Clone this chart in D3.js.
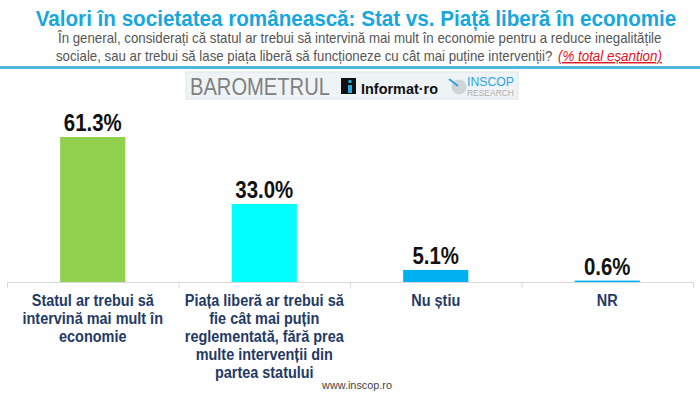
<!DOCTYPE html>
<html>
<head>
<meta charset="utf-8">
<script src="https://cdn.jsdelivr.net/npm/d3@7"></script>
<style>
  body { margin: 0; background: #fff; }
  svg { display: block; }
  text { font-family: "Liberation Sans", Arial, sans-serif; }
</style>
</head>
<body>
<svg id="chart" width="700" height="395"></svg>
<script>
// data
const categories = [
  ["Statul ar trebui să", "intervină mai mult în", "economie"],
  ["Piața liberă ar trebui să", "fie cât mai puțin", "reglementată, fără prea", "multe intervenții din", "partea statului"],
  ["Nu știu"],
  ["NR"]
];
const values = [61.3, 33.0, 5.1, 0.6];
const barColors = ["#92d050", "#00ffff", "#00b0f0", "#00b0f0"];

const width = 700, height = 395;
const margin = { left: 7, right: 7, baseline: 282, top: 137 };
const squeeze = 0.85; // fake a narrow font

const svg = d3.select("#chart");

// squeeze a text horizontally so it is w px wide, anchored at (x, y)
function fit(g, x, y, w) {
  const t = g.select("text");
  const k = w / t.node().getComputedTextLength();
  g.attr("transform", `translate(${x},${y}) scale(${Math.min(k, 1.2)},1)`);
  return g;
}
function label(x, y, w, str, attrs) {
  const g = svg.append("g");
  const t = g.append("text").text(str);
  Object.entries(attrs).forEach(([k, v]) => t.attr(k, v));
  return fit(g, x, y, w);
}

// title + question
label(356, 26, 641, "Valori în societatea românească: Stat vs. Piață liberă în economie",
  { "text-anchor": "middle", "font-size": 22, "font-weight": "bold", fill: "#16a7dd" });
label(58, 43, 604, "În general, considerați că statul ar trebui să intervină mai mult în economie pentru a reduce inegalitățile",
  { "font-size": 14, fill: "#555" });
label(56, 61, 497, "sociale, sau ar trebui să lase piața liberă să funcționeze cu cât mai puține intervenții?",
  { "font-size": 14, fill: "#555" });
label(558, 61, 104, "(% total eșantion)",
  { "font-size": 14, fill: "#e0141e", "font-style": "italic", "text-decoration": "underline" });

// blue separator
svg.append("rect")
  .attr("x", 0).attr("y", 66).attr("width", width).attr("height", 3)
  .attr("fill", "#4db7dc");

// logo banner
svg.append("rect")
  .attr("x", 186).attr("y", 72).attr("width", 332).attr("height", 27)
  .attr("fill", "#eef3f5").attr("stroke", "#dde6ea");
label(190, 95, 140, "BAROMETRUL", { "font-size": 23, fill: "#808080" });
svg.append("rect")
  .attr("x", 341).attr("y", 78).attr("width", 15).attr("height", 16)
  .attr("fill", "#111");
svg.append("rect")
  .attr("x", 348).attr("y", 85).attr("width", 4).attr("height", 8)
  .attr("fill", "#29a8e0");
svg.append("circle")
  .attr("cx", 350).attr("cy", 81.5).attr("r", 1.8)
  .attr("fill", "#29a8e0");
label(361, 94, 77, "Informat·ro", { "font-size": 15, "font-weight": "bold", fill: "#111" });
svg.append("circle")
  .attr("cx", 459).attr("cy", 87).attr("r", 7.5)
  .attr("fill", "#cfd4d7");
svg.append("line")
  .attr("x1", 449).attr("y1", 79).attr("x2", 458).attr("y2", 86)
  .attr("stroke", "#2aa7df").attr("stroke-width", 2);
label(467, 86, 47, "INSCOP", { "font-size": 12, fill: "#2aa7df" });
label(467, 96, 47, "RESEARCH", { "font-size": 8.5, fill: "#b0b0b0" });

// scales
const x = d3.scaleBand()
  .domain(d3.range(values.length))
  .range([margin.left, width - margin.right])
  .paddingInner(0.62).paddingOuter(0.31);

const y = d3.scaleLinear()
  .domain([0, 61.3])
  .range([margin.baseline, margin.top]);

// axis with category boundary ticks
const axis = svg.append("g");
axis.append("line")
  .attr("x1", margin.left).attr("x2", width - margin.right)
  .attr("y1", margin.baseline + 0.5).attr("y2", margin.baseline + 0.5)
  .attr("stroke", "#d9d9d9");
axis.selectAll("line.tick")
  .data(d3.range(values.length + 1))
  .join("line")
  .attr("class", "tick")
  .attr("x1", i => margin.left + 0.5 + i * (width - margin.left - margin.right) / values.length)
  .attr("x2", i => margin.left + 0.5 + i * (width - margin.left - margin.right) / values.length)
  .attr("y1", margin.baseline).attr("y2", margin.baseline + 6)
  .attr("stroke", "#d9d9d9");

// bars
svg.selectAll("rect.bar")
  .data(values)
  .join("rect")
  .attr("class", "bar")
  .attr("x", (d, i) => x(i))
  .attr("width", x.bandwidth())
  .attr("y", d => y(d))
  .attr("height", d => Math.max(1.5, margin.baseline - y(d)))
  .attr("fill", (d, i) => barColors[i]);

// value labels
svg.selectAll("g.value")
  .data(values)
  .join("g")
  .attr("class", "value")
  .attr("transform", (d, i) => `translate(${x(i) + x.bandwidth() / 2},${Math.min(y(d), margin.baseline - 1.5) - 6}) scale(${squeeze},1)`)
  .append("text")
  .attr("text-anchor", "middle")
  .attr("font-size", 24).attr("font-weight", "bold").attr("fill", "#111")
  .text(d => d.toFixed(1) + "%");

// category labels
svg.selectAll("g.cat")
  .data(categories)
  .join("g")
  .attr("class", "cat")
  .attr("transform", (d, i) => `translate(${x(i) + x.bandwidth() / 2},0) scale(${squeeze},1)`)
  .append("text")
  .attr("text-anchor", "middle")
  .attr("font-size", 17).attr("font-weight", "bold").attr("fill", "#1f3a64")
  .selectAll("tspan")
  .data(d => d)
  .join("tspan")
  .attr("x", 0)
  .attr("y", (d, j) => 306 + j * 18)
  .text(d => d);

// footer
label(357, 389, 70, "www.inscop.ro", { "text-anchor": "middle", "font-size": 10, fill: "#444" });
</script>
</body>
</html>
